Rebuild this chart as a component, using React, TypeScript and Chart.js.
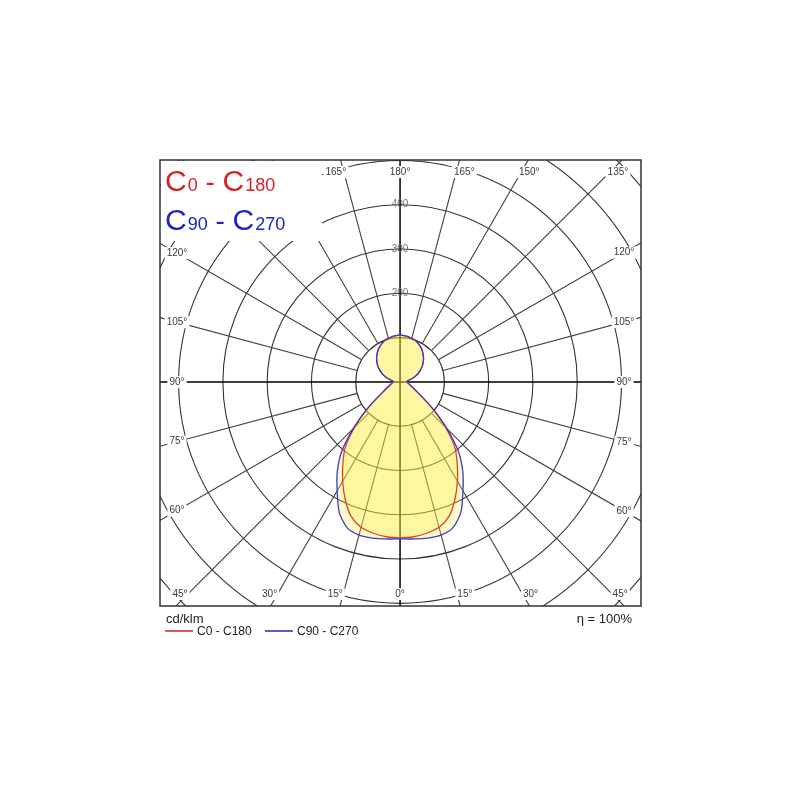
import React, { useEffect, useRef } from "react";
import { Chart, registerables } from "chart.js";

Chart.register(...registerables);

// ---- data (cd/klm) ----
const gammaAngles = [0, 5, 10, 15, 20, 25, 30, 35, 40, 45, 50, 55, 60, 65, 70, 75, 80, 85, 90, 95, 100, 105, 110, 115, 120, 125, 130, 135, 140, 145, 150, 155, 160, 165, 170, 175, 180];
const c0c180Values = [352, 351, 347, 340, 323, 293, 259, 225, 192, 145, 100, 64, 43, 33, 26, 22, 19, 17, 16, 16, 19, 27, 36, 45, 53, 61, 68, 75, 81, 87, 92, 96, 100, 102, 104, 105, 106];
const c90c270Values = [354, 356, 358, 358, 350, 325, 284, 247, 205, 150, 101, 64, 43, 33, 26, 22, 19, 17, 16, 16, 19, 27, 36, 45, 53, 61, 68, 75, 81, 87, 92, 96, 100, 102, 104, 105, 106];
const ringValues = [100, 200, 300, 400, 500, 600, 700, 800];
const ringLabelValues = [200, 300, 400];
const spokeAngles = [0, 15, 30, 45, 60, 75, 90, 105, 120, 135, 150, 165, 180, 195, 210, 225, 240, 255, 270, 285, 300, 315, 330, 345];
const seriesNames = ["C0 - C180", "C90 - C270"];
const titleParts = [
  [["C", "0"], ["C", "180"]],
  [["C", "90"], ["C", "270"]],
];
const unitLabel = "cd/klm";
const efficiencyLabel = "\u03B7 = 100%";

const RED_LINE = "#e0402a";
const BLUE_LINE = "#3a3ac8";
const RED_TEXT = "#d42228";
const BLUE_TEXT = "#2222c4";
const FILL = "rgba(255,238,60,0.28)";
const FONT = '"Liberation Sans", Arial, sans-serif';

function toLoop(values: number[]) {
  const pts: { x: number; y: number }[] = [];
  for (let i = 0; i < gammaAngles.length; i++) {
    const g = (gammaAngles[i] * Math.PI) / 180;
    pts.push({ x: values[i] * Math.sin(g), y: -values[i] * Math.cos(g) });
  }
  for (let i = gammaAngles.length - 2; i >= 0; i--) {
    const g = (gammaAngles[i] * Math.PI) / 180;
    pts.push({ x: -values[i] * Math.sin(g), y: -values[i] * Math.cos(g) });
  }
  return pts;
}

const polarPlugin = {
  id: "polarGrid",
  beforeDraw(chart: any) {
    const { ctx, chartArea: a, scales } = chart;
    const xs = scales.x, ys = scales.y;
    const cx = xs.getPixelForValue(0), cy = ys.getPixelForValue(0);
    ctx.save();
    ctx.beginPath();
    ctx.rect(a.left, a.top, a.right - a.left, a.bottom - a.top);
    ctx.clip();
    ctx.strokeStyle = "#333";
    ctx.lineWidth = 1.1;
    for (const r of ringValues) {
      const rp = xs.getPixelForValue(r) - cx;
      ctx.beginPath();
      ctx.arc(cx, cy, rp, 0, Math.PI * 2);
      ctx.stroke();
    }
    ctx.strokeStyle = "#404040";
    for (const t of spokeAngles) {
      if (t % 90 === 0) continue;
      const g = (t * Math.PI) / 180;
      const r0 = ringValues[0], r1 = 1400;
      ctx.beginPath();
      ctx.moveTo(xs.getPixelForValue(r0 * Math.sin(g)), ys.getPixelForValue(-r0 * Math.cos(g)));
      ctx.lineTo(xs.getPixelForValue(r1 * Math.sin(g)), ys.getPixelForValue(-r1 * Math.cos(g)));
      ctx.stroke();
    }
    ctx.strokeStyle = "#000";
    ctx.lineWidth = 1.5;
    ctx.beginPath();
    ctx.moveTo(a.left, cy);
    ctx.lineTo(a.right, cy);
    ctx.moveTo(cx, a.top);
    ctx.lineTo(cx, a.bottom);
    ctx.stroke();
    ctx.restore();
  },
  afterDatasetsDraw(chart: any) {
    const { ctx, chartArea: a, scales } = chart;
    const xs = scales.x, ys = scales.y;
    const cx = xs.getPixelForValue(0), cy = ys.getPixelForValue(0);
    ctx.save();
    // ring labels
    ctx.font = `10px ${FONT}`;
    ctx.textAlign = "center";
    ctx.textBaseline = "middle";
    ctx.fillStyle = "#707070";
    for (const v of ringLabelValues) {
      ctx.fillText(String(v), cx, ys.getPixelForValue(v));
    }
    // angle labels at the frame
    const insetX = 17, insetY = 12;
    const L = a.left + insetX, R = a.right - insetX, T = a.top + insetY, B = a.bottom - insetY;
    for (const t of spokeAngles) {
      const g = (t * Math.PI) / 180;
      const dx = Math.sin(g), dy = Math.cos(g);
      const tx = Math.abs(dx) < 1e-9 ? Infinity : (dx > 0 ? R - cx : L - cx) / dx;
      const ty = Math.abs(dy) < 1e-9 ? Infinity : (dy > 0 ? B - cy : T - cy) / dy;
      let px, py;
      if (ty <= tx) {
        px = cx + ty * dx + (Math.abs(dx) < 1e-9 ? 0 : Math.sign(dx) * 8);
        py = cy + ty * dy;
      } else {
        px = cx + tx * dx;
        py = cy + tx * dy;
      }
      const lab = (t <= 180 ? t : 360 - t) + "\u00B0";
      const w = ctx.measureText(lab).width;
      ctx.fillStyle = "#fff";
      ctx.fillRect(px - w / 2 - 2, py - 6, w + 4, 12);
      ctx.fillStyle = "#3a3a3a";
      ctx.fillText(lab, px, py);
    }
    ctx.restore();
  },
  afterDraw(chart: any) {
    const { ctx, chartArea: a, data } = chart;
    ctx.save();
    // legend box top-left
    ctx.fillStyle = "#fff";
    ctx.fillRect(a.left + 1, a.top + 1, 161, 80);
    const colors = [RED_TEXT, BLUE_TEXT];
    const baselines = [a.top + 31, a.top + 70];
    ctx.textBaseline = "alphabetic";
    ctx.textAlign = "left";
    titleParts.forEach((parts, i) => {
      let x = a.left + 5;
      ctx.fillStyle = colors[i];
      parts.forEach((p, j) => {
        if (j > 0) {
          ctx.font = `28px ${FONT}`;
          ctx.fillText(" - ", x, baselines[i]);
          x += ctx.measureText(" - ").width;
        }
        ctx.font = `30px ${FONT}`;
        ctx.fillText(p[0], x, baselines[i]);
        x += ctx.measureText(p[0]).width + 1;
        ctx.font = `18px ${FONT}`;
        ctx.fillText(p[1], x, baselines[i]);
        x += ctx.measureText(p[1]).width;
      });
    });
    // frame
    ctx.strokeStyle = "#333";
    ctx.lineWidth = 1.5;
    ctx.strokeRect(a.left, a.top, a.right - a.left, a.bottom - a.top);
    // bottom texts
    ctx.fillStyle = "#222";
    ctx.font = `13px ${FONT}`;
    ctx.fillText(unitLabel, a.left + 6, a.bottom + 17);
    ctx.textAlign = "right";
    ctx.fillText(efficiencyLabel, a.right - 9, a.bottom + 17);
    ctx.textAlign = "left";
    ctx.font = `12px ${FONT}`;
    const lineColors = ["#c82828", "#2a2a9a"];
    const starts = [a.left + 5, a.left + 105];
    data.datasets.forEach((ds: any, i: number) => {
      const x0 = starts[i];
      ctx.strokeStyle = lineColors[i];
      ctx.lineWidth = 1.5;
      ctx.beginPath();
      ctx.moveTo(x0, a.bottom + 25);
      ctx.lineTo(x0 + 28, a.bottom + 25);
      ctx.stroke();
      ctx.fillStyle = "#222";
      ctx.fillText(ds.label, x0 + 32, a.bottom + 29);
    });
    ctx.restore();
  },
};

export default function App() {
  const ref = useRef<HTMLCanvasElement>(null);
  useEffect(() => {
    const chart = new Chart(ref.current as HTMLCanvasElement, {
      type: "scatter",
      data: {
        datasets: [
          {
            label: seriesNames[0],
            data: toLoop(c0c180Values),
            showLine: true,
            borderColor: RED_LINE,
            borderWidth: 1.3,
            backgroundColor: FILL,
            fill: "shape",
            tension: 0.25,
            pointRadius: 0,
            order: 1,
          },
          {
            label: seriesNames[1],
            data: toLoop(c90c270Values),
            showLine: true,
            borderColor: BLUE_LINE,
            borderWidth: 1.3,
            backgroundColor: FILL,
            fill: "shape",
            tension: 0.25,
            pointRadius: 0,
            order: 0,
          },
        ],
      } as any,
      options: {
        animation: false,
        responsive: false,
        devicePixelRatio: 1,
        layout: { padding: { left: 160, top: 160, right: 159, bottom: 194 } },
        scales: {
          x: { type: "linear", min: -542, max: 544, display: false },
          y: { type: "linear", min: -506, max: 501, display: false },
        },
        plugins: {
          legend: { display: false },
          tooltip: { enabled: false },
          filler: { propagate: false, drawTime: "beforeDatasetsDraw" },
        },
      } as any,
      plugins: [polarPlugin],
    });
    return () => chart.destroy();
  }, []);
  return (
    <div style={{ position: "fixed", left: 0, top: 0, width: 800, height: 800, background: "#fff" }}>
      <canvas ref={ref} width={800} height={800} style={{ width: 800, height: 800, display: "block" }} />
    </div>
  );
}
